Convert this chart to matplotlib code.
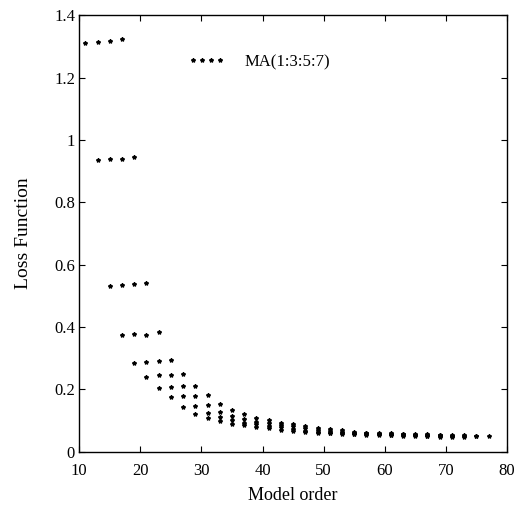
import matplotlib.pyplot as plt

# AR part of the model (each row), MA orders 1, 3, 5, 7 added to it
ar_orders = [10, 12, 14, 16, 18, 20, 22, 24, 26, 28, 30, 32, 34, 36, 38, 40,
             42, 44, 46, 48, 50, 52, 54, 56, 58, 60, 62, 64, 66, 68, 70]
ma_orders = [1, 3, 5, 7]

# loss for each AR order, columns = MA 1, 3, 5, 7
loss = [
    [1.310, 1.315, 1.318, 1.325],
    [0.935, 0.938, 0.940, 0.945],
    [0.533, 0.535, 0.537, 0.540],
    [0.375, 0.378, 0.376, 0.383],
    [0.285, 0.288, 0.290, 0.296],
    [0.240, 0.245, 0.247, 0.250],
    [0.205, 0.208, 0.210, 0.212],
    [0.177, 0.179, 0.180, 0.182],
    [0.145, 0.148, 0.150, 0.152],
    [0.121, 0.125, 0.129, 0.133],
    [0.108, 0.112, 0.116, 0.120],
    [0.098, 0.102, 0.106, 0.110],
    [0.089, 0.093, 0.097, 0.101],
    [0.085, 0.088, 0.091, 0.093],
    [0.081, 0.084, 0.087, 0.089],
    [0.076, 0.079, 0.082, 0.084],
    [0.071, 0.073, 0.075, 0.077],
    [0.066, 0.068, 0.070, 0.072],
    [0.063, 0.065, 0.067, 0.069],
    [0.061, 0.062, 0.063, 0.064],
    [0.059, 0.060, 0.061, 0.062],
    [0.057, 0.058, 0.059, 0.060],
    [0.056, 0.057, 0.058, 0.059],
    [0.055, 0.056, 0.057, 0.058],
    [0.054, 0.055, 0.056, 0.057],
    [0.053, 0.054, 0.055, 0.056],
    [0.052, 0.053, 0.054, 0.055],
    [0.051, 0.052, 0.053, 0.054],
    [0.050, 0.051, 0.052, 0.053],
    [0.049, 0.050, 0.051, 0.052],
    [0.048, 0.049, 0.050, 0.051],
]

xticks = [10, 20, 30, 40, 50, 60, 70, 80]
yticks = [0, 0.2, 0.4, 0.6, 0.8, 1, 1.2, 1.4]
ytick_labels = ["0", "0.2", "0.4", "0.6", "0.8", "1", "1.2", "1.4"]

plt.rcParams['font.family'] = ['Liberation Serif', 'DejaVu Serif']

fig = plt.figure(figsize=(5.21, 5.23), dpi=100)
ax = fig.add_axes([0.152, 0.136, 0.821, 0.835])

xs = []
ys = []
for p, row in zip(ar_orders, loss):
    for q, v in zip(ma_orders, row):
        xs.append(p + q)
        ys.append(v)

ax.plot(xs, ys, linestyle='none', marker='*', markersize=3, color='black',
        label='MA(1:3:5:7)')

ax.set_xlim(10, 80)
ax.set_ylim(0, 1.4)
ax.set_xticks(xticks)
ax.set_yticks(yticks)
ax.set_yticklabels(ytick_labels)
ax.tick_params(direction='in', top=True, right=True, labelsize=12, length=4)
ax.tick_params(axis='x', pad=8)
ax.tick_params(axis='y', pad=3)
for s in ax.spines.values():
    s.set_linewidth(1.0)

ax.set_xlabel("Model order", fontsize=13, labelpad=6)
ax.set_ylabel("Loss Function", fontsize=14, labelpad=16)

ax.legend(loc='center left', bbox_to_anchor=(0.255, 0.892), frameon=False,
          numpoints=4, handlelength=2.2, handletextpad=1.2, borderpad=0,
          borderaxespad=0, fontsize=12)

fig.savefig("out.png", dpi=100)
